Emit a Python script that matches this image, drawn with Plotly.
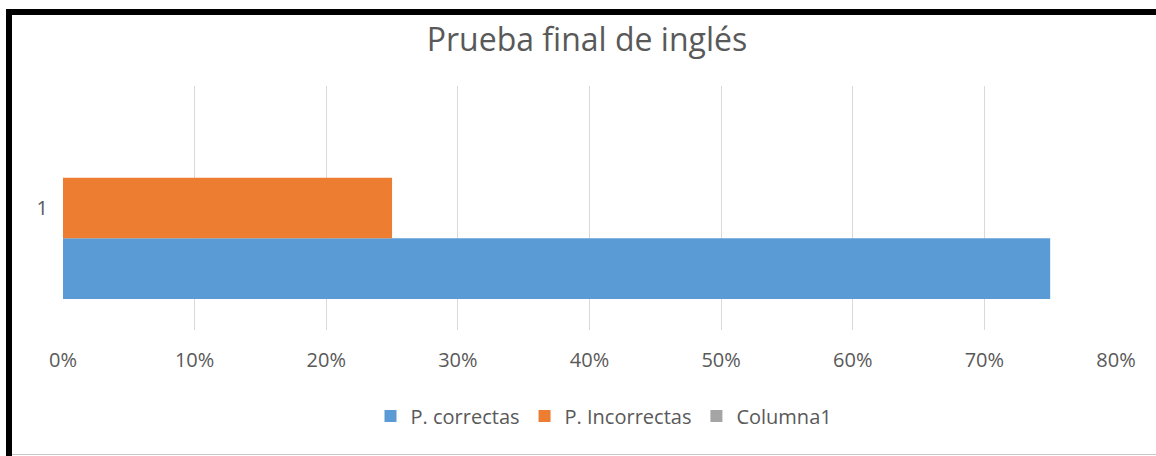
import plotly.graph_objects as go

categories = ["1"]
p_correctas = [0.75]
p_incorrectas = [0.25]
columna1 = [0]

series_names = ["P. correctas", "P. Incorrectas", "Columna1"]
series_colors = ["#5B9BD5", "#ED7D31", "#A5A5A5"]
x_ticks = [0, 0.1, 0.2, 0.3, 0.4, 0.5, 0.6, 0.7, 0.8]

W, H = 1156, 456
L, R, T, B = 63, 40, 86, 126
PW = W - L - R
PH = H - T - B


def px_x(p):
    return (p - L) / PW


def px_y(p):
    return (H - B - p) / PH


fig = go.Figure()
for name, vals, col in zip(series_names, [p_correctas, p_incorrectas, columna1], series_colors):
    fig.add_trace(go.Bar(
        y=categories, x=vals, name=name, orientation="h",
        marker=dict(color=col, line=dict(width=0)),
    ))

FONT = "Open Sans"
fig.update_layout(
    width=W, height=H,
    margin=dict(l=L, r=R, t=T, b=B),
    paper_bgcolor="white", plot_bgcolor="white",
    barmode="group", bargap=0.254, bargroupgap=0,
    font=dict(family=FONT, color="#595959", size=20),
    title=dict(text="Prueba final de inglés", x=(587 - L) / PW, xref="paper",
               xanchor="center", y=1 - 40 / H, yanchor="middle",
               font=dict(size=32, color="#595959", family=FONT)),
    xaxis=dict(range=[0, 0.8], tickvals=x_ticks, tickformat=".0%",
               showgrid=True, gridcolor="#D9D9D9", gridwidth=1,
               zeroline=False, showline=False, ticks="",
               ticklabelstandoff=16, tickfont=dict(size=20, color="#595959"),
               fixedrange=True),
    yaxis=dict(type="category", showgrid=False, zeroline=False, showline=False,
               ticks="", ticklabelstandoff=14,
               tickfont=dict(size=20, color="#595959")),
    legend=dict(orientation="h", x=(604 - L) / PW, xanchor="center",
                y=px_y(416), yanchor="middle", traceorder="normal",
                font=dict(size=20, color="#595959"), itemwidth=30),
    showlegend=True,
)

# frame decoration (black top/left border, grey bottom line)
fig.add_shape(type="line", xref="paper", yref="paper",
              x0=px_x(9), x1=px_x(9), y0=px_y(10), y1=px_y(460),
              line=dict(color="black", width=6))
fig.add_shape(type="line", xref="paper", yref="paper",
              x0=px_x(6), x1=px_x(1160), y0=px_y(12), y1=px_y(12),
              line=dict(color="black", width=6))
fig.add_shape(type="line", xref="paper", yref="paper",
              x0=px_x(12), x1=px_x(1160), y0=px_y(454.5), y1=px_y(454.5),
              line=dict(color="#C8C8C8", width=1))

fig.write_html("out.html", config={"displayModeBar": False},
               post_script="document.body.style.margin='0';")
